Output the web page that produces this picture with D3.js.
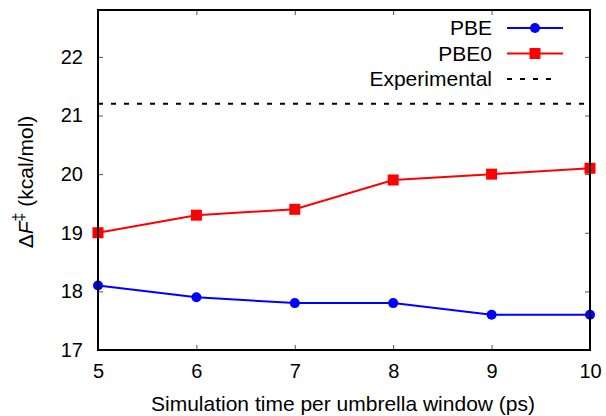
<!DOCTYPE html>
<html>
<head>
<meta charset="utf-8">
<script src="https://cdn.jsdelivr.net/npm/d3@7"></script>
<style>
  html, body { margin: 0; padding: 0; background: #fff; }
  svg { display: block; font-family: 'Liberation Sans', Arial, sans-serif; }
</style>
</head>
<body>
<div id="chart"></div>
<script>
// ─── Data ───────────────────────────────────────────────
const simTimes = [5, 6, 7, 8, 9, 10];
const pbeValues = [18.1, 17.9, 17.8, 17.8, 17.6, 17.6];
const pbe0Values = [19.0, 19.3, 19.4, 19.9, 20.0, 20.1];
const experimentalValue = 21.2;
const xTicks = [5, 6, 7, 8, 9, 10];
const yTicks = [17, 18, 19, 20, 21, 22];
const seriesNames = ['PBE', 'PBE0', 'Experimental'];

// ─── Layout ─────────────────────────────────────────────
const width = 606, height = 416;
const margin = { top: 10, right: 16, bottom: 66, left: 98 };
const w = width - margin.left - margin.right;
const h = height - margin.top - margin.bottom;
const font = "'Liberation Sans', Arial, sans-serif";

const svg = d3.select('#chart').append('svg')
    .attr('width', width)
    .attr('height', height);

const g = svg.append('g')
    .attr('transform', `translate(${margin.left},${margin.top})`);

const x = d3.scaleLinear().domain([5, 10]).range([0, w]);
const y = d3.scaleLinear().domain([17, 22.8]).range([h, 0]);

// ── Ticks (inward, mirrored) ───────────────────────────
const tickLen = 5;
const tickColor = '#555';
const fmt = d3.format('d');

g.append('g')
    .attr('transform', `translate(0,${h})`)
    .call(d3.axisBottom(x).tickValues(xTicks).tickFormat(fmt).tickSizeInner(-tickLen).tickSizeOuter(0).tickPadding(14))
    .call(a => a.select('.domain').remove())
    .call(a => a.selectAll('line').attr('stroke', tickColor))
    .call(a => a.selectAll('text').attr('font-size', 20).attr('fill', '#000').attr('font-family', font));

g.append('g')
    .call(d3.axisTop(x).tickValues(xTicks).tickSizeInner(-tickLen).tickSizeOuter(0).tickFormat(''))
    .call(a => a.select('.domain').remove())
    .call(a => a.selectAll('line').attr('stroke', tickColor));

g.append('g')
    .call(d3.axisLeft(y).tickValues(yTicks).tickFormat(fmt).tickSizeInner(-tickLen).tickSizeOuter(0).tickPadding(15))
    .call(a => a.select('.domain').remove())
    .call(a => a.selectAll('line').attr('stroke', tickColor))
    .call(a => a.selectAll('text').attr('font-size', 20).attr('fill', '#000').attr('font-family', font));

g.append('g')
    .attr('transform', `translate(${w},0)`)
    .call(d3.axisRight(y).tickValues(yTicks).tickSizeInner(-tickLen).tickSizeOuter(0).tickFormat(''))
    .call(a => a.select('.domain').remove())
    .call(a => a.selectAll('line').attr('stroke', tickColor));

// ── Experimental reference ─────────────────────────────
g.append('line')
    .attr('x1', 0).attr('x2', w)
    .attr('y1', y(experimentalValue)).attr('y2', y(experimentalValue))
    .attr('stroke', '#000')
    .attr('stroke-width', 2)
    .attr('stroke-dasharray', '5,8');

// ── Series ─────────────────────────────────────────────
const line = d3.line().x((d, i) => x(simTimes[i])).y(d => y(d));

g.append('path')
    .datum(pbeValues)
    .attr('d', line)
    .attr('fill', 'none')
    .attr('stroke', '#0000ff')
    .attr('stroke-width', 2);

g.selectAll('.pbe-pt')
    .data(pbeValues)
    .join('circle')
    .attr('class', 'pbe-pt')
    .attr('cx', (d, i) => x(simTimes[i]))
    .attr('cy', d => y(d))
    .attr('r', 5)
    .attr('fill', '#0000ff');

g.append('path')
    .datum(pbe0Values)
    .attr('d', line)
    .attr('fill', 'none')
    .attr('stroke', '#ff0000')
    .attr('stroke-width', 2);

const sq = 11;
g.selectAll('.pbe0-pt')
    .data(pbe0Values)
    .join('rect')
    .attr('class', 'pbe0-pt')
    .attr('x', (d, i) => x(simTimes[i]) - sq / 2)
    .attr('y', d => y(d) - sq / 2)
    .attr('width', sq)
    .attr('height', sq)
    .attr('fill', '#ff0000');

// ── Frame ──────────────────────────────────────────────
g.append('rect')
    .attr('x', 0).attr('y', 0)
    .attr('width', w).attr('height', h)
    .attr('fill', 'none')
    .attr('stroke', '#000')
    .attr('stroke-width', 2);

// ── Legend ─────────────────────────────────────────────
const legend = svg.append('g');
const legendRows = [
    { name: seriesNames[0], color: '#0000ff', marker: 'circle', dash: null },
    { name: seriesNames[1], color: '#ff0000', marker: 'square', dash: null },
    { name: seriesNames[2], color: '#000', marker: null, dash: '5,8' }
];
legendRows.forEach((r, i) => {
    const cy = 28 + i * 25.5;
    legend.append('text')
        .attr('x', 492)
        .attr('y', cy + 7)
        .attr('text-anchor', 'end')
        .attr('font-size', 21)
        .attr('fill', '#000')
        .text(r.name);
    legend.append('line')
        .attr('x1', 507).attr('x2', r.dash ? 553 : 563)
        .attr('y1', cy).attr('y2', cy)
        .attr('stroke', r.color)
        .attr('stroke-width', 2)
        .attr('stroke-dasharray', r.dash);
    if (r.marker === 'circle') {
        legend.append('circle').attr('cx', 535).attr('cy', cy).attr('r', 5).attr('fill', r.color);
    } else if (r.marker === 'square') {
        legend.append('rect').attr('x', 535 - sq / 2).attr('y', cy - sq / 2)
            .attr('width', sq).attr('height', sq).attr('fill', r.color);
    }
});

// ── Axis titles ────────────────────────────────────────
svg.append('text')
    .attr('x', 343)
    .attr('y', 411)
    .attr('text-anchor', 'middle')
    .attr('font-size', 21)
    .text('Simulation time per umbrella window (ps)');

const yTitle = svg.append('text')
    .attr('transform', `translate(33,${margin.top + h / 2 + 2}) rotate(-90)`)
    .attr('text-anchor', 'middle')
    .attr('font-size', 21);
yTitle.append('tspan').text('Δ');
yTitle.append('tspan').attr('font-style', 'italic').text('F');
yTitle.append('tspan').attr('dy', -9).attr('font-size', 16).text('‡');
yTitle.append('tspan').attr('dy', 9).text(' (kcal/mol)');
</script>
</body>
</html>
